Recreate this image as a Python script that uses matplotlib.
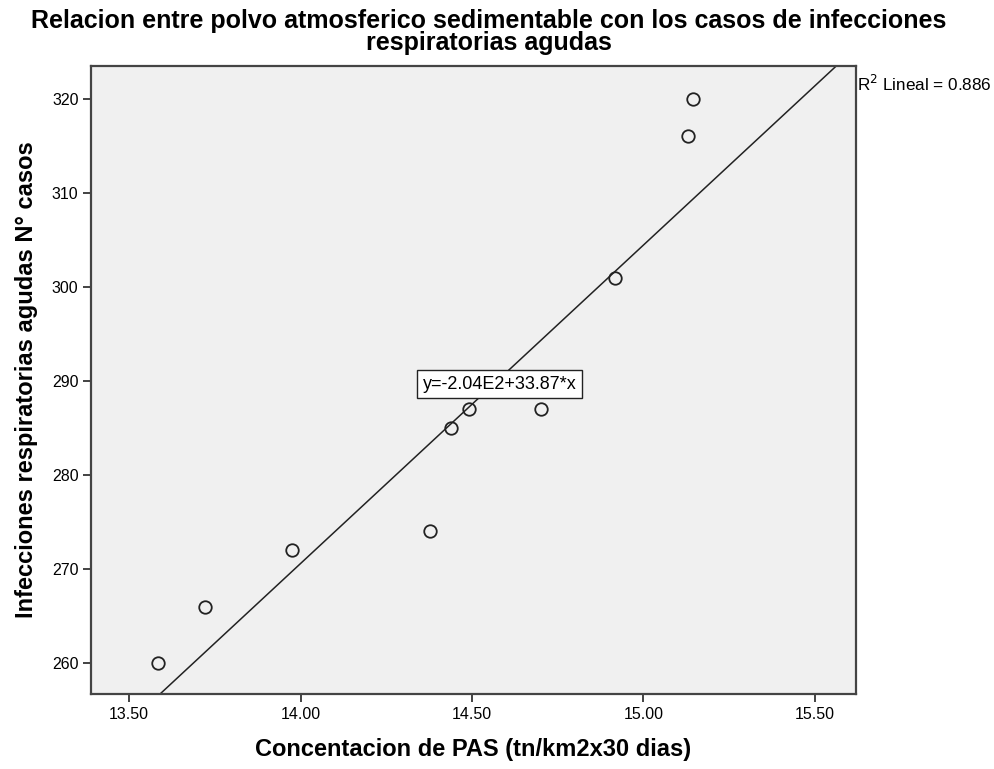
import matplotlib
matplotlib.use("Agg")
import matplotlib.pyplot as plt

plt.rcParams['font.family'] = ['Liberation Sans', 'DejaVu Sans']

# datos
pas = [13.585, 13.72, 13.975, 14.378, 14.44, 14.49, 14.70, 14.917, 15.13, 15.145]
casos = [260, 266, 272, 274, 285, 287, 287, 301, 316, 320]

# recta ajustada (segun la etiqueta del grafico)
intercepto = -203.6
pendiente = 33.87

x_ticks = [13.5, 14.0, 14.5, 15.0, 15.5]
y_ticks = [260, 270, 280, 290, 300, 310, 320]

eq_text = "y=-2.04E2+33.87*x"
r2_text = "R$^2$ Lineal = 0.886"

fig = plt.figure(figsize=(9.95, 7.69), dpi=100)
ax = fig.add_axes([0.0915, 0.0975, 0.7688, 0.8167])
ax.set_facecolor("#f0f0f0")

ax.set_xlim(13.389, 15.62)
ax.set_ylim(256.7, 323.5)

xl = [13.3, 15.7]
ax.plot(xl, [intercepto + pendiente * v for v in xl], color="#222222", lw=1.1, zorder=2)

ax.plot(pas, casos, "o", mfc="none", mec="#222222", ms=9, mew=1.3, zorder=3)

ax.set_xticks(x_ticks)
ax.set_xticklabels([f"{v:.2f}" for v in x_ticks])
ax.set_yticks(y_ticks)
ax.tick_params(direction="out", length=6, width=1.2, labelsize=11.5, color="#222222", pad=3)

for s in ax.spines.values():
    s.set_color("#444444")
    s.set_linewidth(1.6)

ax.text(14.58, 289.65, eq_text, fontsize=13, ha="center", va="center",
        bbox=dict(boxstyle="square,pad=0.3", fc="white", ec="#222222", lw=1), zorder=4)
ax.text(1.001, 0.971, r2_text, transform=ax.transAxes, fontsize=12.3, ha="left", va="center")

ax.set_xlabel("Concentacion de PAS (tn/km2x30 dias)", fontsize=17, fontweight="bold", labelpad=12)
ax.set_ylabel("Infecciones respiratorias agudas N° casos", fontsize=17, fontweight="bold", labelpad=10)
fig.text(0.491, 0.958, "Relacion entre polvo atmosferico sedimentable con los casos de infecciones\nrespiratorias agudas",
         ha="center", va="center", fontsize=18, fontweight="bold", linespacing=0.9)

fig.savefig("out.png", dpi=100)
